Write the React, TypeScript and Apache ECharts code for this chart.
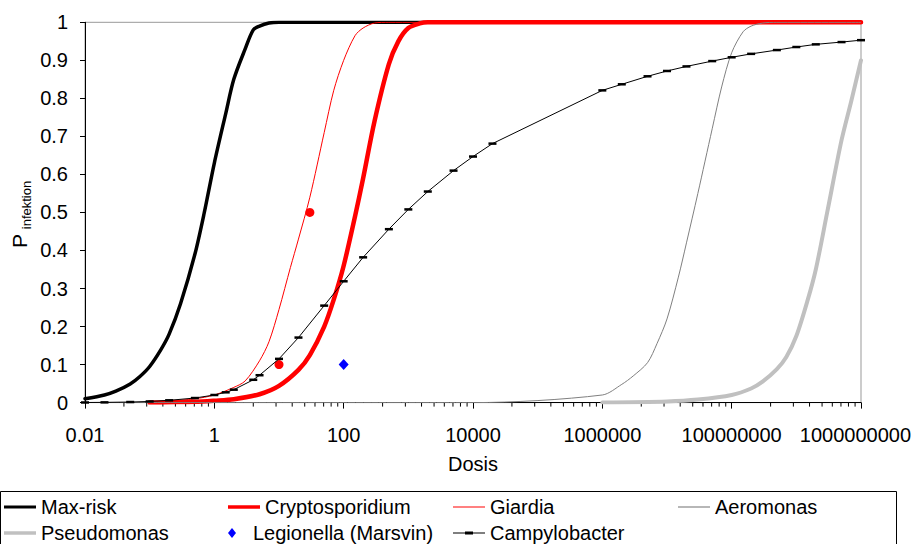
import React, { useEffect, useRef } from "react";
import * as echarts from "echarts";

// ---- axis ticks ----
const xTickLabels = ["0.01", "1", "100", "10000", "1000000", "100000000", "10000000000"];
const xMajorTicks = [0.01, 1, 100, 1e4, 1e6, 1e8];
const xMinorMultipliers = [4, 9, 16, 25, 36, 49, 64, 81];
const yTickLabels = ["0", "0.1", "0.2", "0.3", "0.4", "0.5", "0.6", "0.7", "0.8", "0.9", "1"];

// ---- series (dose, probability) ----
const maxRiskDose = [0.01, 0.02, 0.03, 0.05, 0.07, 0.1, 0.15, 0.2, 0.3, 0.5, 0.7, 1, 1.5, 2, 3, 4, 5, 7, 10, 1e10];
const maxRiskP = [0.01, 0.02, 0.03, 0.049, 0.068, 0.095, 0.14, 0.18, 0.26, 0.39, 0.5, 0.63, 0.76, 0.85, 0.93, 0.98, 0.99, 0.998, 1, 1];

const cryptoDose = [0.1, 0.2, 0.5, 1, 2, 5, 10, 20, 30, 50, 70, 100, 150, 200, 300, 500, 700, 1000, 1500, 2000, 1e10];
const cryptoP = [0, 0.001, 0.002, 0.005, 0.009, 0.022, 0.044, 0.086, 0.125, 0.2, 0.27, 0.36, 0.49, 0.59, 0.74, 0.89, 0.95, 0.985, 0.997, 1, 1];

const giardiaDose = [0.1, 0.2, 0.5, 1, 2, 3, 5, 7, 10, 15, 20, 30, 50, 70, 100, 150, 200, 300, 500, 1e10];
const giardiaP = [0.002, 0.004, 0.01, 0.02, 0.04, 0.057, 0.11, 0.16, 0.245, 0.355, 0.43, 0.54, 0.71, 0.82, 0.9, 0.965, 0.985, 0.998, 1, 1];

const giardiaObsDose = [10, 30];
const giardiaObsP = [0.1, 0.5];

const aeroDose = [0.01, 1e4, 1e6, 2e6, 3e6, 5e6, 7e6, 1e7, 1.5e7, 2e7, 3e7, 5e7, 7e7, 1e8, 1.5e8, 2e8, 3e8, 5e8, 1e10];
const aeroP = [0, 0, 0.02, 0.048, 0.07, 0.105, 0.155, 0.22, 0.33, 0.42, 0.55, 0.72, 0.83, 0.92, 0.975, 0.99, 0.998, 1, 1];

const pseudoDose = [1e6, 1e7, 3e7, 1e8, 2e8, 3e8, 5e8, 7e8, 1e9, 1.5e9, 2e9, 3e9, 5e9, 7e9, 1e10];
const pseudoP = [0, 0.003, 0.008, 0.02, 0.037, 0.055, 0.088, 0.12, 0.175, 0.27, 0.35, 0.5, 0.69, 0.79, 0.9];

const legionellaDose = [100];
const legionellaP = [0.1];

const campyDose = [0.01, 0.02, 0.05, 0.1, 0.2, 0.5, 1, 1.5, 2, 4, 5, 10, 20, 50, 100, 200, 500, 1000, 2000, 5000, 1e4, 2e4, 1e6, 2e6, 5e6, 1e7, 2e7, 5e7, 1e8, 2e8, 5e8, 1e9, 2e9, 5e9, 1e10];
const campyP = [0.0003, 0.0006, 0.0015, 0.003, 0.006, 0.012, 0.02, 0.027, 0.034, 0.06, 0.072, 0.115, 0.171, 0.255, 0.319, 0.382, 0.456, 0.508, 0.555, 0.61, 0.647, 0.681, 0.821, 0.837, 0.858, 0.872, 0.884, 0.898, 0.908, 0.917, 0.927, 0.935, 0.942, 0.948, 0.953];

const FONT = "'Liberation Sans', Arial, sans-serif";
const FS = 20;

const zip = (xs: number[], ys: number[]) => xs.map((x, i) => [x, ys[i]]);

export default function App() {
  const ref = useRef<HTMLDivElement>(null);
  useEffect(() => {
    if (!ref.current) return;
    const chart = echarts.init(ref.current, undefined, { renderer: "svg" });

    const minorTicks: number[][] = [];
    xMajorTicks.forEach((m) => xMinorMultipliers.forEach((k) => minorTicks.push([m * k, 0])));

    const legendCols = [4, 228, 453, 678];
    const legendRows = [497, 523];
    const legendItems = [
      { name: "Max-risk", c: 0, r: 0, icon: "path://M0,0h32v3h-32z" },
      { name: "Cryptosporidium", c: 1, r: 0, icon: "path://M0,0h32v3.5h-32z" },
      { name: "Giardia", c: 2, r: 0, icon: "path://M0,0h32v1h-32z" },
      { name: "Aeromonas", c: 3, r: 0, icon: "path://M0,0h28v1h-28z" },
      { name: "Pseudomonas", c: 0, r: 1, icon: "path://M0,0h32v3.5h-32z" },
      { name: "Legionella (Marsvin)", c: 1, r: 1, h: 10, icon: "path://M4,0L8,5L4,10L0,5z" },
      { name: "Campylobacter", c: 2, r: 1, icon: "path://M0,1h32v1h-32z M12,0h8v3h-8z" },
    ];

    const smoothLine = { smooth: 0.3 };

    const option: any = {
      animation: false,
      backgroundColor: "#fff",
      textStyle: { fontFamily: FONT },
      grid: {
        left: 85,
        right: 50,
        top: 22.3,
        bottom: 141.4,
        outerBoundsMode: "none",
        containLabel: false,
        show: true,
        borderColor: "#999999",
        borderWidth: 1,
      },
      legend: legendItems.map((it: any) => ({
        left: legendCols[it.c],
        top: legendRows[it.r],
        padding: 0,
        itemWidth: 32,
        itemHeight: it.h || 14,
        symbolKeepAspect: true,
        selectedMode: false,
        data: [{ name: it.name, icon: it.icon }],
        textStyle: { fontSize: FS, fontFamily: FONT, color: "#000" },
      })),
      xAxis: {
        type: "log",
        logBase: 100,
        min: 0.01,
        max: 1e10,
        splitNumber: 6,
        name: "Dosis",
        nameLocation: "middle",
        nameGap: 51,
        nameTextStyle: { fontSize: FS, fontFamily: FONT, color: "#000" },
        axisLine: { show: true, lineStyle: { color: "#000", width: 1 } },
        axisTick: { show: true, length: 6, lineStyle: { color: "#000" } },
        axisLabel: {
          margin: 22,
          fontSize: FS,
          fontFamily: FONT,
          color: "#000",
          formatter: (_v: number, i: number) => xTickLabels[i] ?? "",
        },
        splitLine: { show: false },
        minorTick: { show: false },
      },
      yAxis: {
        type: "value",
        min: 0,
        max: 1,
        interval: 0.1,
        axisLine: { show: true, lineStyle: { color: "#000", width: 1 } },
        axisTick: { show: true, length: 5, lineStyle: { color: "#000" } },
        axisLabel: {
          margin: 17,
          fontSize: FS,
          fontFamily: FONT,
          color: "#000",
          formatter: (_v: number, i: number) => yTickLabels[i] ?? "",
        },
        splitLine: { show: false },
      },
      graphic: [
        {
          type: "rect",
          shape: { x: 0.5, y: 491.5, width: 896, height: 70 },
          style: { fill: "none", stroke: "#000", lineWidth: 1 },
          silent: true,
        },
        {
          type: "text",
          x: 19,
          y: 241,
          rotation: Math.PI / 2,
          style: { text: "P", fontSize: 21, fontFamily: FONT, fill: "#000", align: "center", verticalAlign: "middle" },
        },
        {
          type: "text",
          x: 26,
          y: 205,
          rotation: Math.PI / 2,
          style: { text: "infektion", fontSize: 13, fontFamily: FONT, fill: "#000", align: "center", verticalAlign: "middle" },
        },
      ],
      series: [
        {
          type: "custom",
          name: "minorTicks",
          silent: true,
          clip: false,
          data: minorTicks,
          renderItem: (_p: any, api: any) => {
            const pt = api.coord([api.value(0), 0]);
            return {
              type: "line",
              shape: { x1: pt[0], y1: pt[1], x2: pt[0], y2: pt[1] + 4 },
              style: { stroke: "#000", lineWidth: 1 },
            };
          },
        },
        {
          name: "Max-risk",
          type: "line",
          data: zip(maxRiskDose, maxRiskP),
          symbol: "none",
          ...smoothLine,
          color: "#000000",
          lineStyle: { color: "#000000", width: 3.5, join: "round", cap: "round" },
        },
        {
          name: "Cryptosporidium",
          type: "line",
          data: zip(cryptoDose, cryptoP),
          symbol: "none",
          ...smoothLine,
          color: "#ff0000",
          lineStyle: { color: "#ff0000", width: 4.5, join: "round", cap: "round" },
        },
        {
          name: "Giardia",
          type: "line",
          data: zip(giardiaDose, giardiaP),
          symbol: "none",
          ...smoothLine,
          color: "#ff0000",
          lineStyle: { color: "#ff0000", width: 1, join: "round" },
        },
        {
          name: "Aeromonas",
          type: "line",
          data: zip(aeroDose, aeroP),
          symbol: "none",
          ...smoothLine,
          color: "#808080",
          lineStyle: { color: "#808080", width: 1, join: "round" },
        },
        {
          name: "Pseudomonas",
          type: "line",
          data: zip(pseudoDose, pseudoP),
          symbol: "none",
          ...smoothLine,
          color: "#c0c0c0",
          lineStyle: { color: "#c0c0c0", width: 4, join: "round", cap: "round" },
        },
        {
          name: "Legionella (Marsvin)",
          type: "scatter",
          data: zip(legionellaDose, legionellaP),
          symbol: "diamond",
          symbolSize: [10, 11],
          color: "#0000ff",
          itemStyle: { color: "#0000ff", opacity: 1 },
        },
        {
          name: "Campylobacter",
          type: "line",
          data: zip(campyDose, campyP),
          symbol: "rect",
          symbolSize: [8, 2.5],
          showSymbol: true,
          color: "#000000",
          itemStyle: { color: "#000000" },
          lineStyle: { color: "#000000", width: 1, join: "round" },
        },
        {
          name: "Giardia (obs)",
          type: "scatter",
          data: zip(giardiaObsDose, giardiaObsP),
          symbol: "circle",
          symbolSize: 9,
          itemStyle: { color: "#ff0000", opacity: 1 },
        },
      ],
    };
    chart.setOption(option);
    return () => chart.dispose();
  }, []);
  return (
    <div
      ref={ref}
      style={{ position: "fixed", left: 0, top: 0, width: 911, height: 544, background: "#fff" }}
    />
  );
}
